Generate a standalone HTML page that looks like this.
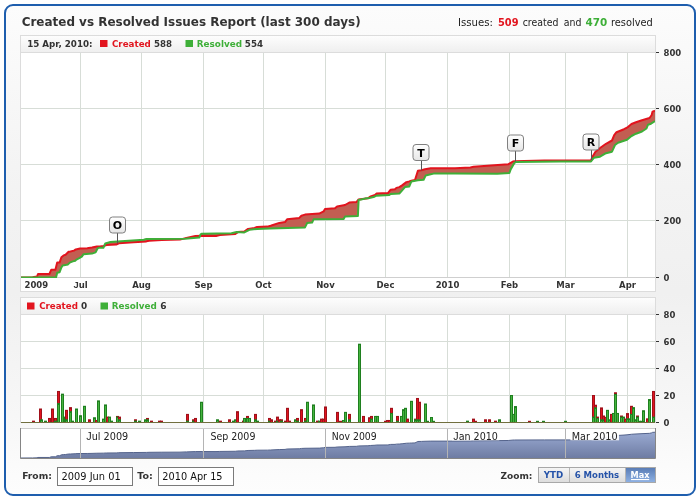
<!DOCTYPE html>
<html><head><meta charset="utf-8"><title>Created vs Resolved Issues Report</title>
<style>
html,body{margin:0;padding:0;background:#fff;}
body{width:700px;height:500px;overflow:hidden;position:relative;font-family:"DejaVu Sans","Liberation Sans",sans-serif;}
#frame{position:absolute;left:4px;top:4px;width:688px;height:488px;border:2px solid #1e5eae;border-radius:9px;
background:linear-gradient(to bottom,#fcfcfc 0px,#f9f9f9 60px,#f3f3f3 180px,#f0f0f0 285px,#f4f4f4 360px,#f8f8f8 425px,#fcfcfc 470px,#fdfdfd 488px);}
#title{position:absolute;left:22px;top:12px;font:bold 11.9px "DejaVu Sans","Liberation Sans",sans-serif;color:#333;white-space:nowrap;letter-spacing:0;}
#stats{position:absolute;left:458.5px;top:14px;font:10.7px "DejaVu Sans Condensed","Liberation Sans",sans-serif;color:#222;white-space:nowrap;}
#stats b.r{color:#e2141e}
#stats b.g{color:#3eaf38}
svg{position:absolute;left:0;top:0;}
</style></head><body>
<div id="frame"></div>
<svg width="700" height="500" viewBox="0 0 700 500">
<defs><linearGradient id="lg" x1="0" y1="0" x2="0" y2="1"><stop offset="0" stop-color="#fdfdfd"/><stop offset="1" stop-color="#efefef"/></linearGradient><linearGradient id="fg" x1="0" y1="0" x2="0" y2="1"><stop offset="0" stop-color="#ffffff"/><stop offset="1" stop-color="#e6e6e6"/></linearGradient><linearGradient id="ng" x1="0" y1="0" x2="0" y2="1"><stop offset="0" stop-color="#9aaad2"/><stop offset="1" stop-color="#6e7ca3"/></linearGradient><clipPath id="cu"><rect x="21" y="53" width="634" height="225"/></clipPath><clipPath id="cl"><rect x="21" y="315" width="634" height="108"/></clipPath></defs>
<rect x="20.5" y="35.5" width="635" height="256" fill="#fff" stroke="#dcdcdc"/>
<rect x="21" y="36" width="634" height="16" fill="url(#lg)"/>
<line x1="21" y1="52.5" x2="655" y2="52.5" stroke="#dcdcdc"/>
<line x1="80.5" y1="53" x2="80.5" y2="277" stroke="#d7ddd7"/>
<line x1="141.5" y1="53" x2="141.5" y2="277" stroke="#d7ddd7"/>
<line x1="203.5" y1="53" x2="203.5" y2="277" stroke="#d7ddd7"/>
<line x1="263.5" y1="53" x2="263.5" y2="277" stroke="#d7ddd7"/>
<line x1="325.5" y1="53" x2="325.5" y2="277" stroke="#d7ddd7"/>
<line x1="385.5" y1="53" x2="385.5" y2="277" stroke="#d7ddd7"/>
<line x1="447.5" y1="53" x2="447.5" y2="277" stroke="#d7ddd7"/>
<line x1="509.5" y1="53" x2="509.5" y2="277" stroke="#d7ddd7"/>
<line x1="565.5" y1="53" x2="565.5" y2="277" stroke="#d7ddd7"/>
<line x1="627.5" y1="53" x2="627.5" y2="277" stroke="#d7ddd7"/>
<line x1="21" y1="108.5" x2="655" y2="108.5" stroke="#d7ddd7"/>
<line x1="21" y1="164.5" x2="655" y2="164.5" stroke="#d7ddd7"/>
<line x1="21" y1="220.5" x2="655" y2="220.5" stroke="#d7ddd7"/>
<line x1="21" y1="277.5" x2="655" y2="277.5" stroke="#cfcfcf"/>
<g clip-path="url(#cu)">
<polygon points="20.5,277.5 32.6,277.2 37,276.5 38,274 49.4,274 51.2,269.8 55.4,269.8 57.2,262.6 59.6,262.6 61.4,257.2 63.6,255.4 65.6,254.8 68.6,251.8 70.4,251.5 74,250.6 75.8,249.4 80,248.6 87.2,248.2 92,247.6 96.8,246.6 100,246.4 103.4,246 106.6,245 116.2,244.6 118.8,243.3 133.6,242.2 146.4,241.4 149,240.7 161.8,240 180,239.6 186.4,237.9 195.4,236 202.5,235.7 216,236 219.8,235 235.3,234 237.8,232.1 244.3,231.5 248.1,228.9 254.5,228 257.1,227 267.4,226.6 270.7,225.7 279.3,222.9 285,222.1 287.1,219.3 299.3,217.9 301.4,215.7 305,214.6 319.3,213.6 323.6,211.4 325,208.9 335,208.3 337.1,206.4 345,205 349.3,202.6 356.4,202.1 358.6,199.5 367.9,198.3 370.7,196.4 375,195 376.4,193.6 387.9,193.1 390.7,189.7 395,189.3 396.4,187.9 399.3,187.1 402.1,185.4 406.4,182.1 409.3,181.4 411.4,180.7 415,180 417.9,170.7 421.4,170.3 425,169.3 430.7,168.3 455,168.3 470.4,167.5 473.6,166.7 508.2,164.3 512.9,161.5 514.5,161.2 544.3,160.6 591,160.5 593.2,155.5 595.5,151.7 600,148 606,143.8 612,140.5 614.2,135.2 616.5,132.2 624,129.2 627,127.7 631.5,124 636,122.2 642,120.2 649.5,118 651.7,115 652.5,111.7 655,110.8 655,121 651,123.7 648,124.7 646.5,128.5 642,131.5 636,133.7 631.5,136 627,139.7 618,142.7 615,145 612,151.7 606,153.2 600,156.7 594,157.7 591,161.5 560,161.5 516,162.1 514.5,162.7 510.5,169.8 509.4,173 497.2,173.7 455,173.6 433.6,173.6 430.7,174.3 425.7,175.4 423.6,179.7 417.9,180.3 411.4,181.4 409.3,186.4 405,187.1 399.3,193.6 390.7,194 389.3,195 376.4,195.7 373.6,197.1 369.3,197.9 365,198.6 362.1,199.3 358.6,200 357.9,216 345,216.4 343.6,218.9 313.6,219.3 312.1,222.6 307.1,223.1 305,227.4 270,228.5 257.1,228.9 249.4,229.8 244.3,232.4 236.6,232.1 231.4,233.2 201.9,233.7 200.6,234.4 199.3,237.5 185,238.7 146.4,238.9 143.8,239.7 117.5,241.4 110.4,242 105.3,243.5 103.4,247.8 98.6,247.8 97.4,248.8 95.6,252.4 92,253.6 83.6,254.2 81.8,256.6 78.8,258.4 76.4,259.6 75.2,260.8 72.8,261.4 69.8,262.6 68,264.4 62.6,265.4 61.4,267.4 59.6,272.2 57.2,272.8 56,277.5 20.5,277.5" fill="#c25e52"/>
<polyline points="20.5,277.5 32.6,277.2 37,276.5 38,274 49.4,274 51.2,269.8 55.4,269.8 57.2,262.6 59.6,262.6 61.4,257.2 63.6,255.4 65.6,254.8 68.6,251.8 70.4,251.5 74,250.6 75.8,249.4 80,248.6 87.2,248.2 92,247.6 96.8,246.6 100,246.4 103.4,246 106.6,245 116.2,244.6 118.8,243.3 133.6,242.2 146.4,241.4 149,240.7 161.8,240 180,239.6 186.4,237.9 195.4,236 202.5,235.7 216,236 219.8,235 235.3,234 237.8,232.1 244.3,231.5 248.1,228.9 254.5,228 257.1,227 267.4,226.6 270.7,225.7 279.3,222.9 285,222.1 287.1,219.3 299.3,217.9 301.4,215.7 305,214.6 319.3,213.6 323.6,211.4 325,208.9 335,208.3 337.1,206.4 345,205 349.3,202.6 356.4,202.1 358.6,199.5 367.9,198.3 370.7,196.4 375,195 376.4,193.6 387.9,193.1 390.7,189.7 395,189.3 396.4,187.9 399.3,187.1 402.1,185.4 406.4,182.1 409.3,181.4 411.4,180.7 415,180 417.9,170.7 421.4,170.3 425,169.3 430.7,168.3 455,168.3 470.4,167.5 473.6,166.7 508.2,164.3 512.9,161.5 514.5,161.2 544.3,160.6 591,160.5 593.2,155.5 595.5,151.7 600,148 606,143.8 612,140.5 614.2,135.2 616.5,132.2 624,129.2 627,127.7 631.5,124 636,122.2 642,120.2 649.5,118 651.7,115 652.5,111.7 655,110.8" fill="none" stroke="#e2141e" stroke-width="2" stroke-linejoin="round"/>
<polyline points="20.5,277.5 56,277.5 57.2,272.8 59.6,272.2 61.4,267.4 62.6,265.4 68,264.4 69.8,262.6 72.8,261.4 75.2,260.8 76.4,259.6 78.8,258.4 81.8,256.6 83.6,254.2 92,253.6 95.6,252.4 97.4,248.8 98.6,247.8 103.4,247.8 105.3,243.5 110.4,242 117.5,241.4 143.8,239.7 146.4,238.9 185,238.7 199.3,237.5 200.6,234.4 201.9,233.7 231.4,233.2 236.6,232.1 244.3,232.4 249.4,229.8 257.1,228.9 270,228.5 305,227.4 307.1,223.1 312.1,222.6 313.6,219.3 343.6,218.9 345,216.4 357.9,216 358.6,200 362.1,199.3 365,198.6 369.3,197.9 373.6,197.1 376.4,195.7 389.3,195 390.7,194 399.3,193.6 405,187.1 409.3,186.4 411.4,181.4 417.9,180.3 423.6,179.7 425.7,175.4 430.7,174.3 433.6,173.6 455,173.6 497.2,173.7 509.4,173 510.5,169.8 514.5,162.7 516,162.1 560,161.5 591,161.5 594,157.7 600,156.7 606,153.2 612,151.7 615,145 618,142.7 627,139.7 631.5,136 636,133.7 642,131.5 646.5,128.5 648,124.7 651,123.7 655,121" fill="none" stroke="#3eaf38" stroke-width="2" stroke-linejoin="round"/>
</g>
<line x1="117.5" y1="233" x2="117.5" y2="243.5" stroke="#555" stroke-width="1"/>
<rect x="109.5" y="217" width="16" height="16" rx="3" fill="url(#fg)" stroke="#808080"/>
<text x="117.5" y="229.2" font-family="DejaVu Sans" font-weight="bold" font-size="11" fill="#000" text-anchor="middle">O</text>
<line x1="421.5" y1="160.5" x2="421.5" y2="170.5" stroke="#555" stroke-width="1"/>
<rect x="413" y="144.5" width="16" height="16" rx="3" fill="url(#fg)" stroke="#808080"/>
<text x="421" y="156.7" font-family="DejaVu Sans" font-weight="bold" font-size="11" fill="#000" text-anchor="middle">T</text>
<line x1="515.5" y1="151" x2="515.5" y2="161.5" stroke="#555" stroke-width="1"/>
<rect x="507.5" y="135" width="16" height="16" rx="3" fill="url(#fg)" stroke="#808080"/>
<text x="515.5" y="147.2" font-family="DejaVu Sans" font-weight="bold" font-size="11" fill="#000" text-anchor="middle">F</text>
<line x1="591.5" y1="150" x2="591.5" y2="160" stroke="#555" stroke-width="1"/>
<rect x="583" y="134" width="16" height="16" rx="3" fill="url(#fg)" stroke="#808080"/>
<text x="591" y="146.2" font-family="DejaVu Sans" font-weight="bold" font-size="11" fill="#000" text-anchor="middle">R</text>
<text x="24.5" y="288" font-family="DejaVu Sans" font-weight="bold" font-size="8.5" fill="#333">2009</text>
<text x="80.5" y="288" font-family="DejaVu Sans" font-weight="bold" font-size="8.5" fill="#333" text-anchor="middle"><tspan font-family="Liberation Sans" font-size="9.4">J</tspan>ul</text>
<text x="141.5" y="288" font-family="DejaVu Sans" font-weight="bold" font-size="8.5" fill="#333" text-anchor="middle">Aug</text>
<text x="203.5" y="288" font-family="DejaVu Sans" font-weight="bold" font-size="8.5" fill="#333" text-anchor="middle">Sep</text>
<text x="263.5" y="288" font-family="DejaVu Sans" font-weight="bold" font-size="8.5" fill="#333" text-anchor="middle">Oct</text>
<text x="325.5" y="288" font-family="DejaVu Sans" font-weight="bold" font-size="8.5" fill="#333" text-anchor="middle">Nov</text>
<text x="385.5" y="288" font-family="DejaVu Sans" font-weight="bold" font-size="8.5" fill="#333" text-anchor="middle">Dec</text>
<text x="447.5" y="288" font-family="DejaVu Sans" font-weight="bold" font-size="8.5" fill="#333" text-anchor="middle">2010</text>
<text x="509.5" y="288" font-family="DejaVu Sans" font-weight="bold" font-size="8.5" fill="#333" text-anchor="middle">Feb</text>
<text x="565.5" y="288" font-family="DejaVu Sans" font-weight="bold" font-size="8.5" fill="#333" text-anchor="middle">Mar</text>
<text x="627.5" y="288" font-family="DejaVu Sans" font-weight="bold" font-size="8.5" fill="#333" text-anchor="middle">Apr</text>
<line x1="656" y1="52.5" x2="659" y2="52.5" stroke="#333"/>
<text x="663.5" y="55.6" font-family="DejaVu Sans" font-weight="bold" font-size="8.5" fill="#333">800</text>
<line x1="656" y1="108.5" x2="659" y2="108.5" stroke="#333"/>
<text x="663.5" y="111.6" font-family="DejaVu Sans" font-weight="bold" font-size="8.5" fill="#333">600</text>
<line x1="656" y1="164.5" x2="659" y2="164.5" stroke="#333"/>
<text x="663.5" y="167.6" font-family="DejaVu Sans" font-weight="bold" font-size="8.5" fill="#333">400</text>
<line x1="656" y1="220.5" x2="659" y2="220.5" stroke="#333"/>
<text x="663.5" y="223.6" font-family="DejaVu Sans" font-weight="bold" font-size="8.5" fill="#333">200</text>
<line x1="656" y1="277.5" x2="659" y2="277.5" stroke="#333"/>
<text x="663.5" y="280.6" font-family="DejaVu Sans" font-weight="bold" font-size="8.5" fill="#333">0</text>
<rect x="100" y="40" width="7.5" height="7" fill="#e2141e"/>
<rect x="185.5" y="40" width="7.5" height="7" fill="#3eaf38"/>
<text x="27.16" y="47" textLength="65.38" lengthAdjust="spacingAndGlyphs" font-size="9" font-family="DejaVu Sans" font-weight="bold" fill="#333">15 Apr, 2010:</text>
<text x="111.96" y="47" textLength="38.88" lengthAdjust="spacingAndGlyphs" font-size="9" font-family="DejaVu Sans" font-weight="bold" fill="#e2141e">Created</text>
<text x="154.06" y="47" textLength="18.08" lengthAdjust="spacingAndGlyphs" font-size="9" font-family="DejaVu Sans" font-weight="bold" fill="#333">588</text>
<text x="196.76" y="47" textLength="45.28" lengthAdjust="spacingAndGlyphs" font-size="9" font-family="DejaVu Sans" font-weight="bold" fill="#3eaf38">Resolved</text>
<text x="244.86" y="47" textLength="18.28" lengthAdjust="spacingAndGlyphs" font-size="9" font-family="DejaVu Sans" font-weight="bold" fill="#333">554</text>
<text x="21.68" y="25.8" textLength="338.94" lengthAdjust="spacingAndGlyphs" font-size="12" font-family="DejaVu Sans" font-weight="bold" fill="#333">Created vs Resolved Issues Report (last 300 days)</text>
<text x="457.99" y="25.9" textLength="35.02" lengthAdjust="spacingAndGlyphs" font-size="10.2" font-family="DejaVu Sans" fill="#222">Issues:</text>
<text x="497.99" y="25.9" textLength="20.52" lengthAdjust="spacingAndGlyphs" font-size="10.2" font-family="DejaVu Sans" font-weight="bold" fill="#e2141e">509</text>
<text x="522.69" y="25.9" textLength="35.72" lengthAdjust="spacingAndGlyphs" font-size="10.2" font-family="DejaVu Sans" fill="#222">created</text>
<text x="563.79" y="25.9" textLength="17.72" lengthAdjust="spacingAndGlyphs" font-size="10.2" font-family="DejaVu Sans" fill="#222">and</text>
<text x="585.49" y="25.9" textLength="21.72" lengthAdjust="spacingAndGlyphs" font-size="10.2" font-family="DejaVu Sans" font-weight="bold" fill="#3eaf38">470</text>
<text x="610.99" y="25.9" textLength="41.82" lengthAdjust="spacingAndGlyphs" font-size="10.2" font-family="DejaVu Sans" fill="#222">resolved</text>
<rect x="20.5" y="297.5" width="635" height="125" fill="#fff" stroke="#dcdcdc"/>
<rect x="21" y="298" width="634" height="16" fill="url(#lg)"/>
<line x1="21" y1="314.5" x2="655" y2="314.5" stroke="#dcdcdc"/>
<line x1="80.5" y1="315" x2="80.5" y2="422" stroke="#d7ddd7"/>
<line x1="141.5" y1="315" x2="141.5" y2="422" stroke="#d7ddd7"/>
<line x1="203.5" y1="315" x2="203.5" y2="422" stroke="#d7ddd7"/>
<line x1="263.5" y1="315" x2="263.5" y2="422" stroke="#d7ddd7"/>
<line x1="325.5" y1="315" x2="325.5" y2="422" stroke="#d7ddd7"/>
<line x1="385.5" y1="315" x2="385.5" y2="422" stroke="#d7ddd7"/>
<line x1="447.5" y1="315" x2="447.5" y2="422" stroke="#d7ddd7"/>
<line x1="509.5" y1="315" x2="509.5" y2="422" stroke="#d7ddd7"/>
<line x1="565.5" y1="315" x2="565.5" y2="422" stroke="#d7ddd7"/>
<line x1="627.5" y1="315" x2="627.5" y2="422" stroke="#d7ddd7"/>
<line x1="21" y1="341.5" x2="655" y2="341.5" stroke="#d7ddd7"/>
<line x1="21" y1="368.5" x2="655" y2="368.5" stroke="#d7ddd7"/>
<line x1="21" y1="395.5" x2="655" y2="395.5" stroke="#d7ddd7"/>
<g clip-path="url(#cl)">
<rect x="32.5" y="421.15" width="2" height="1.35" fill="#e0141e" stroke="#a0101a" stroke-width="1"/>
<rect x="39.5" y="409" width="2" height="13.5" fill="#e0141e" stroke="#a0101a" stroke-width="1"/>
<rect x="40.5" y="419.8" width="2" height="2.7" fill="#45b43f" stroke="#1f7f1f" stroke-width="1"/>
<rect x="44.5" y="421.15" width="2" height="1.35" fill="#45b43f" stroke="#1f7f1f" stroke-width="1"/>
<rect x="48.5" y="418.45" width="2" height="4.05" fill="#e0141e" stroke="#a0101a" stroke-width="1"/>
<rect x="51.5" y="409" width="2" height="13.5" fill="#e0141e" stroke="#a0101a" stroke-width="1"/>
<rect x="54.5" y="418.45" width="2" height="4.05" fill="#e0141e" stroke="#a0101a" stroke-width="1"/>
<rect x="54.5" y="421.15" width="2" height="1.35" fill="#45b43f" stroke="#1f7f1f" stroke-width="1"/>
<rect x="57.5" y="391.45" width="2" height="31.05" fill="#e0141e" stroke="#a0101a" stroke-width="1"/>
<rect x="57.5" y="403.6" width="2" height="18.9" fill="#45b43f" stroke="#1f7f1f" stroke-width="1"/>
<rect x="61.5" y="394.15" width="2" height="28.35" fill="#45b43f" stroke="#1f7f1f" stroke-width="1"/>
<rect x="64.5" y="417.1" width="2" height="5.4" fill="#45b43f" stroke="#1f7f1f" stroke-width="1"/>
<rect x="65.5" y="410.35" width="2" height="12.15" fill="#e0141e" stroke="#a0101a" stroke-width="1"/>
<rect x="65.5" y="419.8" width="2" height="2.7" fill="#45b43f" stroke="#1f7f1f" stroke-width="1"/>
<rect x="69.5" y="407.65" width="2" height="14.85" fill="#e0141e" stroke="#a0101a" stroke-width="1"/>
<rect x="69.5" y="411.7" width="2" height="10.8" fill="#45b43f" stroke="#1f7f1f" stroke-width="1"/>
<rect x="71.5" y="421.15" width="2" height="1.35" fill="#45b43f" stroke="#1f7f1f" stroke-width="1"/>
<rect x="75.5" y="409" width="2" height="13.5" fill="#45b43f" stroke="#1f7f1f" stroke-width="1"/>
<rect x="79.5" y="415.75" width="2" height="6.75" fill="#45b43f" stroke="#1f7f1f" stroke-width="1"/>
<rect x="83.5" y="406.3" width="2" height="16.2" fill="#45b43f" stroke="#1f7f1f" stroke-width="1"/>
<rect x="88.5" y="419.8" width="2" height="2.7" fill="#e0141e" stroke="#a0101a" stroke-width="1"/>
<rect x="93.5" y="417.77" width="2" height="4.73" fill="#45b43f" stroke="#1f7f1f" stroke-width="1"/>
<rect x="95.5" y="420.48" width="2" height="2.03" fill="#e0141e" stroke="#a0101a" stroke-width="1"/>
<rect x="97.5" y="400.9" width="2" height="21.6" fill="#45b43f" stroke="#1f7f1f" stroke-width="1"/>
<rect x="102.5" y="419.12" width="2" height="3.38" fill="#45b43f" stroke="#1f7f1f" stroke-width="1"/>
<rect x="104.5" y="404.95" width="2" height="17.55" fill="#45b43f" stroke="#1f7f1f" stroke-width="1"/>
<rect x="106.5" y="417.1" width="2" height="5.4" fill="#e0141e" stroke="#a0101a" stroke-width="1"/>
<rect x="108.5" y="417.1" width="2" height="5.4" fill="#45b43f" stroke="#1f7f1f" stroke-width="1"/>
<rect x="110.5" y="421.15" width="2" height="1.35" fill="#45b43f" stroke="#1f7f1f" stroke-width="1"/>
<rect x="116.5" y="416.43" width="2" height="6.08" fill="#e0141e" stroke="#a0101a" stroke-width="1"/>
<rect x="116.5" y="417.1" width="2" height="5.4" fill="#45b43f" stroke="#1f7f1f" stroke-width="1"/>
<rect x="118.5" y="417.1" width="2" height="5.4" fill="#e0141e" stroke="#a0101a" stroke-width="1"/>
<rect x="118.5" y="419.8" width="2" height="2.7" fill="#45b43f" stroke="#1f7f1f" stroke-width="1"/>
<rect x="134.5" y="419.8" width="2" height="2.7" fill="#e0141e" stroke="#a0101a" stroke-width="1"/>
<rect x="134.5" y="421.15" width="2" height="1.35" fill="#45b43f" stroke="#1f7f1f" stroke-width="1"/>
<rect x="138.5" y="421.15" width="2" height="1.35" fill="#45b43f" stroke="#1f7f1f" stroke-width="1"/>
<rect x="144.5" y="419.8" width="2" height="2.7" fill="#45b43f" stroke="#1f7f1f" stroke-width="1"/>
<rect x="146.5" y="418.45" width="2" height="4.05" fill="#e0141e" stroke="#a0101a" stroke-width="1"/>
<rect x="146.5" y="419.8" width="2" height="2.7" fill="#45b43f" stroke="#1f7f1f" stroke-width="1"/>
<rect x="150.5" y="421.15" width="2" height="1.35" fill="#e0141e" stroke="#a0101a" stroke-width="1"/>
<rect x="158.5" y="421.15" width="2" height="1.35" fill="#e0141e" stroke="#a0101a" stroke-width="1"/>
<rect x="160.5" y="421.15" width="2" height="1.35" fill="#e0141e" stroke="#a0101a" stroke-width="1"/>
<rect x="186.5" y="414.4" width="2" height="8.1" fill="#e0141e" stroke="#a0101a" stroke-width="1"/>
<rect x="186.5" y="421.15" width="2" height="1.35" fill="#45b43f" stroke="#1f7f1f" stroke-width="1"/>
<rect x="192.5" y="419.8" width="2" height="2.7" fill="#e0141e" stroke="#a0101a" stroke-width="1"/>
<rect x="192.5" y="421.15" width="2" height="1.35" fill="#45b43f" stroke="#1f7f1f" stroke-width="1"/>
<rect x="194.5" y="418.45" width="2" height="4.05" fill="#e0141e" stroke="#a0101a" stroke-width="1"/>
<rect x="200.5" y="402.25" width="2" height="20.25" fill="#45b43f" stroke="#1f7f1f" stroke-width="1"/>
<rect x="216.5" y="419.8" width="2" height="2.7" fill="#45b43f" stroke="#1f7f1f" stroke-width="1"/>
<rect x="219.5" y="421.15" width="2" height="1.35" fill="#e0141e" stroke="#a0101a" stroke-width="1"/>
<rect x="228.5" y="419.8" width="2" height="2.7" fill="#e0141e" stroke="#a0101a" stroke-width="1"/>
<rect x="232.5" y="421.15" width="2" height="1.35" fill="#45b43f" stroke="#1f7f1f" stroke-width="1"/>
<rect x="234.5" y="419.8" width="2" height="2.7" fill="#45b43f" stroke="#1f7f1f" stroke-width="1"/>
<rect x="236.5" y="411.7" width="2" height="10.8" fill="#e0141e" stroke="#a0101a" stroke-width="1"/>
<rect x="242.5" y="421.15" width="2" height="1.35" fill="#e0141e" stroke="#a0101a" stroke-width="1"/>
<rect x="243.5" y="418.45" width="2" height="4.05" fill="#45b43f" stroke="#1f7f1f" stroke-width="1"/>
<rect x="246.5" y="416.43" width="2" height="6.08" fill="#e0141e" stroke="#a0101a" stroke-width="1"/>
<rect x="246.5" y="418.45" width="2" height="4.05" fill="#45b43f" stroke="#1f7f1f" stroke-width="1"/>
<rect x="248.5" y="418.45" width="2" height="4.05" fill="#45b43f" stroke="#1f7f1f" stroke-width="1"/>
<rect x="254.5" y="414.4" width="2" height="8.1" fill="#e0141e" stroke="#a0101a" stroke-width="1"/>
<rect x="254.5" y="419.8" width="2" height="2.7" fill="#45b43f" stroke="#1f7f1f" stroke-width="1"/>
<rect x="256.5" y="421.15" width="2" height="1.35" fill="#45b43f" stroke="#1f7f1f" stroke-width="1"/>
<rect x="268.5" y="418.45" width="2" height="4.05" fill="#e0141e" stroke="#a0101a" stroke-width="1"/>
<rect x="268.5" y="421.15" width="2" height="1.35" fill="#45b43f" stroke="#1f7f1f" stroke-width="1"/>
<rect x="270.5" y="419.8" width="2" height="2.7" fill="#e0141e" stroke="#a0101a" stroke-width="1"/>
<rect x="274.5" y="421.15" width="2" height="1.35" fill="#e0141e" stroke="#a0101a" stroke-width="1"/>
<rect x="276.5" y="417.1" width="2" height="5.4" fill="#e0141e" stroke="#a0101a" stroke-width="1"/>
<rect x="276.5" y="421.15" width="2" height="1.35" fill="#45b43f" stroke="#1f7f1f" stroke-width="1"/>
<rect x="278.5" y="419.8" width="2" height="2.7" fill="#e0141e" stroke="#a0101a" stroke-width="1"/>
<rect x="280.5" y="419.8" width="2" height="2.7" fill="#e0141e" stroke="#a0101a" stroke-width="1"/>
<rect x="280.5" y="421.15" width="2" height="1.35" fill="#45b43f" stroke="#1f7f1f" stroke-width="1"/>
<rect x="284.5" y="421.15" width="2" height="1.35" fill="#e0141e" stroke="#a0101a" stroke-width="1"/>
<rect x="286.5" y="408.32" width="2" height="14.18" fill="#e0141e" stroke="#a0101a" stroke-width="1"/>
<rect x="288.5" y="421.15" width="2" height="1.35" fill="#e0141e" stroke="#a0101a" stroke-width="1"/>
<rect x="294.5" y="419.8" width="2" height="2.7" fill="#45b43f" stroke="#1f7f1f" stroke-width="1"/>
<rect x="296.5" y="418.45" width="2" height="4.05" fill="#e0141e" stroke="#a0101a" stroke-width="1"/>
<rect x="296.5" y="421.15" width="2" height="1.35" fill="#45b43f" stroke="#1f7f1f" stroke-width="1"/>
<rect x="300.5" y="409.68" width="2" height="12.83" fill="#e0141e" stroke="#a0101a" stroke-width="1"/>
<rect x="304.5" y="418.45" width="2" height="4.05" fill="#e0141e" stroke="#a0101a" stroke-width="1"/>
<rect x="304.5" y="421.15" width="2" height="1.35" fill="#45b43f" stroke="#1f7f1f" stroke-width="1"/>
<rect x="306.5" y="402.25" width="2" height="20.25" fill="#45b43f" stroke="#1f7f1f" stroke-width="1"/>
<rect x="312.5" y="404.95" width="2" height="17.55" fill="#45b43f" stroke="#1f7f1f" stroke-width="1"/>
<rect x="316.5" y="421.15" width="2" height="1.35" fill="#e0141e" stroke="#a0101a" stroke-width="1"/>
<rect x="318.5" y="421.15" width="2" height="1.35" fill="#45b43f" stroke="#1f7f1f" stroke-width="1"/>
<rect x="320.5" y="419.12" width="2" height="3.38" fill="#e0141e" stroke="#a0101a" stroke-width="1"/>
<rect x="322.5" y="419.12" width="2" height="3.38" fill="#e0141e" stroke="#a0101a" stroke-width="1"/>
<rect x="324.5" y="406.98" width="2" height="15.53" fill="#e0141e" stroke="#a0101a" stroke-width="1"/>
<rect x="336.5" y="412.38" width="2" height="10.12" fill="#e0141e" stroke="#a0101a" stroke-width="1"/>
<rect x="339.5" y="421.3" width="2" height="1.2" fill="#e0141e" stroke="#a0101a" stroke-width="1"/>
<rect x="342.5" y="420.48" width="2" height="2.03" fill="#45b43f" stroke="#1f7f1f" stroke-width="1"/>
<rect x="344.5" y="412.38" width="2" height="10.12" fill="#45b43f" stroke="#1f7f1f" stroke-width="1"/>
<rect x="348.5" y="414.4" width="2" height="8.1" fill="#e0141e" stroke="#a0101a" stroke-width="1"/>
<rect x="348.5" y="419.8" width="2" height="2.7" fill="#45b43f" stroke="#1f7f1f" stroke-width="1"/>
<rect x="358.5" y="344.2" width="2" height="78.3" fill="#45b43f" stroke="#1f7f1f" stroke-width="1"/>
<rect x="362.5" y="416.43" width="2" height="6.08" fill="#e0141e" stroke="#a0101a" stroke-width="1"/>
<rect x="368.5" y="417.77" width="2" height="4.73" fill="#e0141e" stroke="#a0101a" stroke-width="1"/>
<rect x="370.5" y="416.43" width="2" height="6.08" fill="#e0141e" stroke="#a0101a" stroke-width="1"/>
<rect x="370.5" y="419.12" width="2" height="3.38" fill="#45b43f" stroke="#1f7f1f" stroke-width="1"/>
<rect x="374.5" y="416.43" width="2" height="6.08" fill="#45b43f" stroke="#1f7f1f" stroke-width="1"/>
<rect x="376.5" y="416.43" width="2" height="6.08" fill="#45b43f" stroke="#1f7f1f" stroke-width="1"/>
<rect x="384.5" y="421.3" width="2" height="1.2" fill="#e0141e" stroke="#a0101a" stroke-width="1"/>
<rect x="386.5" y="420.48" width="2" height="2.03" fill="#e0141e" stroke="#a0101a" stroke-width="1"/>
<rect x="388.5" y="420.48" width="2" height="2.03" fill="#e0141e" stroke="#a0101a" stroke-width="1"/>
<rect x="390.5" y="408.32" width="2" height="14.18" fill="#e0141e" stroke="#a0101a" stroke-width="1"/>
<rect x="390.5" y="413.45" width="2" height="9.05" fill="#45b43f" stroke="#1f7f1f" stroke-width="1"/>
<rect x="396.5" y="416.43" width="2" height="6.08" fill="#e0141e" stroke="#a0101a" stroke-width="1"/>
<rect x="396.5" y="421.3" width="2" height="1.2" fill="#45b43f" stroke="#1f7f1f" stroke-width="1"/>
<rect x="400.5" y="416.43" width="2" height="6.08" fill="#45b43f" stroke="#1f7f1f" stroke-width="1"/>
<rect x="402.5" y="409.68" width="2" height="12.83" fill="#45b43f" stroke="#1f7f1f" stroke-width="1"/>
<rect x="404.5" y="408.32" width="2" height="14.18" fill="#45b43f" stroke="#1f7f1f" stroke-width="1"/>
<rect x="406.5" y="419.12" width="2" height="3.38" fill="#e0141e" stroke="#a0101a" stroke-width="1"/>
<rect x="410.5" y="401.31" width="2" height="21.2" fill="#45b43f" stroke="#1f7f1f" stroke-width="1"/>
<rect x="414.5" y="419.12" width="2" height="3.38" fill="#e0141e" stroke="#a0101a" stroke-width="1"/>
<rect x="414.5" y="419.8" width="2" height="2.7" fill="#45b43f" stroke="#1f7f1f" stroke-width="1"/>
<rect x="416.5" y="398.47" width="2" height="24.03" fill="#e0141e" stroke="#a0101a" stroke-width="1"/>
<rect x="416.5" y="419.8" width="2" height="2.7" fill="#45b43f" stroke="#1f7f1f" stroke-width="1"/>
<rect x="418.5" y="402.25" width="2" height="20.25" fill="#e0141e" stroke="#a0101a" stroke-width="1"/>
<rect x="418.5" y="419.8" width="2" height="2.7" fill="#45b43f" stroke="#1f7f1f" stroke-width="1"/>
<rect x="424.5" y="404" width="2" height="18.5" fill="#45b43f" stroke="#1f7f1f" stroke-width="1"/>
<rect x="426.5" y="421.3" width="2" height="1.2" fill="#45b43f" stroke="#1f7f1f" stroke-width="1"/>
<rect x="430.5" y="417.5" width="2" height="5" fill="#45b43f" stroke="#1f7f1f" stroke-width="1"/>
<rect x="432.5" y="421.3" width="2" height="1.2" fill="#45b43f" stroke="#1f7f1f" stroke-width="1"/>
<rect x="466.5" y="421.15" width="2" height="1.35" fill="#45b43f" stroke="#1f7f1f" stroke-width="1"/>
<rect x="472.5" y="419.12" width="2" height="3.38" fill="#e0141e" stroke="#a0101a" stroke-width="1"/>
<rect x="474.5" y="421.3" width="2" height="1.2" fill="#e0141e" stroke="#a0101a" stroke-width="1"/>
<rect x="484.5" y="419.8" width="2" height="2.7" fill="#e0141e" stroke="#a0101a" stroke-width="1"/>
<rect x="488.5" y="419.8" width="2" height="2.7" fill="#e0141e" stroke="#a0101a" stroke-width="1"/>
<rect x="494.5" y="421.15" width="2" height="1.35" fill="#e0141e" stroke="#a0101a" stroke-width="1"/>
<rect x="498.5" y="419.8" width="2" height="2.7" fill="#45b43f" stroke="#1f7f1f" stroke-width="1"/>
<rect x="510.5" y="395.5" width="2" height="27" fill="#45b43f" stroke="#1f7f1f" stroke-width="1"/>
<rect x="512.5" y="414.4" width="2" height="8.1" fill="#45b43f" stroke="#1f7f1f" stroke-width="1"/>
<rect x="514.5" y="406.57" width="2" height="15.93" fill="#45b43f" stroke="#1f7f1f" stroke-width="1"/>
<rect x="528.5" y="421.3" width="2" height="1.2" fill="#e0141e" stroke="#a0101a" stroke-width="1"/>
<rect x="536.5" y="421.3" width="2" height="1.2" fill="#45b43f" stroke="#1f7f1f" stroke-width="1"/>
<rect x="542.5" y="421.3" width="2" height="1.2" fill="#45b43f" stroke="#1f7f1f" stroke-width="1"/>
<rect x="564.5" y="421.3" width="2" height="1.2" fill="#45b43f" stroke="#1f7f1f" stroke-width="1"/>
<rect x="592.5" y="395.5" width="2" height="27" fill="#e0141e" stroke="#a0101a" stroke-width="1"/>
<rect x="592.5" y="417.1" width="2" height="5.4" fill="#45b43f" stroke="#1f7f1f" stroke-width="1"/>
<rect x="594.5" y="405.22" width="2" height="17.28" fill="#e0141e" stroke="#a0101a" stroke-width="1"/>
<rect x="594.5" y="407.79" width="2" height="14.72" fill="#45b43f" stroke="#1f7f1f" stroke-width="1"/>
<rect x="596.5" y="417.1" width="2" height="5.4" fill="#e0141e" stroke="#a0101a" stroke-width="1"/>
<rect x="596.5" y="418.45" width="2" height="4.05" fill="#45b43f" stroke="#1f7f1f" stroke-width="1"/>
<rect x="600.5" y="407.92" width="2" height="14.58" fill="#e0141e" stroke="#a0101a" stroke-width="1"/>
<rect x="600.5" y="419.8" width="2" height="2.7" fill="#45b43f" stroke="#1f7f1f" stroke-width="1"/>
<rect x="602.5" y="416.02" width="2" height="6.48" fill="#e0141e" stroke="#a0101a" stroke-width="1"/>
<rect x="602.5" y="419.8" width="2" height="2.7" fill="#45b43f" stroke="#1f7f1f" stroke-width="1"/>
<rect x="604.5" y="417.37" width="2" height="5.13" fill="#e0141e" stroke="#a0101a" stroke-width="1"/>
<rect x="606.5" y="410.35" width="2" height="12.15" fill="#45b43f" stroke="#1f7f1f" stroke-width="1"/>
<rect x="608.5" y="419.8" width="2" height="2.7" fill="#45b43f" stroke="#1f7f1f" stroke-width="1"/>
<rect x="610.5" y="414.4" width="2" height="8.1" fill="#e0141e" stroke="#a0101a" stroke-width="1"/>
<rect x="612.5" y="413.45" width="2" height="9.05" fill="#45b43f" stroke="#1f7f1f" stroke-width="1"/>
<rect x="614.5" y="392.8" width="2" height="29.7" fill="#e0141e" stroke="#a0101a" stroke-width="1"/>
<rect x="614.5" y="394.42" width="2" height="28.08" fill="#45b43f" stroke="#1f7f1f" stroke-width="1"/>
<rect x="616.5" y="413.45" width="2" height="9.05" fill="#45b43f" stroke="#1f7f1f" stroke-width="1"/>
<rect x="620.5" y="416.02" width="2" height="6.48" fill="#e0141e" stroke="#a0101a" stroke-width="1"/>
<rect x="620.5" y="417.1" width="2" height="5.4" fill="#45b43f" stroke="#1f7f1f" stroke-width="1"/>
<rect x="622.5" y="417.1" width="2" height="5.4" fill="#45b43f" stroke="#1f7f1f" stroke-width="1"/>
<rect x="624.5" y="419.12" width="2" height="3.38" fill="#e0141e" stroke="#a0101a" stroke-width="1"/>
<rect x="626.5" y="413.59" width="2" height="8.91" fill="#e0141e" stroke="#a0101a" stroke-width="1"/>
<rect x="626.5" y="418.86" width="2" height="3.65" fill="#45b43f" stroke="#1f7f1f" stroke-width="1"/>
<rect x="628.5" y="418.86" width="2" height="3.65" fill="#45b43f" stroke="#1f7f1f" stroke-width="1"/>
<rect x="630.5" y="406.3" width="2" height="16.2" fill="#e0141e" stroke="#a0101a" stroke-width="1"/>
<rect x="630.5" y="414.4" width="2" height="8.1" fill="#45b43f" stroke="#1f7f1f" stroke-width="1"/>
<rect x="632.5" y="407.65" width="2" height="14.85" fill="#45b43f" stroke="#1f7f1f" stroke-width="1"/>
<rect x="634.5" y="419.8" width="2" height="2.7" fill="#45b43f" stroke="#1f7f1f" stroke-width="1"/>
<rect x="636.5" y="416.02" width="2" height="6.48" fill="#e0141e" stroke="#a0101a" stroke-width="1"/>
<rect x="636.5" y="417.1" width="2" height="5.4" fill="#45b43f" stroke="#1f7f1f" stroke-width="1"/>
<rect x="638.5" y="421.3" width="2" height="1.2" fill="#45b43f" stroke="#1f7f1f" stroke-width="1"/>
<rect x="640.5" y="421.3" width="2" height="1.2" fill="#45b43f" stroke="#1f7f1f" stroke-width="1"/>
<rect x="642.5" y="410.75" width="2" height="11.74" fill="#45b43f" stroke="#1f7f1f" stroke-width="1"/>
<rect x="646.5" y="418.86" width="2" height="3.65" fill="#e0141e" stroke="#a0101a" stroke-width="1"/>
<rect x="648.5" y="399.55" width="2" height="22.95" fill="#45b43f" stroke="#1f7f1f" stroke-width="1"/>
<rect x="652.5" y="391.45" width="2" height="31.05" fill="#e0141e" stroke="#a0101a" stroke-width="1"/>
<rect x="652.5" y="417.1" width="2" height="5.4" fill="#45b43f" stroke="#1f7f1f" stroke-width="1"/>
</g>
<line x1="21" y1="422.5" x2="655" y2="422.5" stroke="#716f3e"/>
<line x1="656" y1="314.5" x2="659" y2="314.5" stroke="#333"/>
<text x="663.5" y="317.6" font-family="DejaVu Sans" font-weight="bold" font-size="8.5" fill="#333">80</text>
<line x1="656" y1="341.5" x2="659" y2="341.5" stroke="#333"/>
<text x="663.5" y="344.6" font-family="DejaVu Sans" font-weight="bold" font-size="8.5" fill="#333">60</text>
<line x1="656" y1="368.5" x2="659" y2="368.5" stroke="#333"/>
<text x="663.5" y="371.6" font-family="DejaVu Sans" font-weight="bold" font-size="8.5" fill="#333">40</text>
<line x1="656" y1="395.5" x2="659" y2="395.5" stroke="#333"/>
<text x="663.5" y="398.6" font-family="DejaVu Sans" font-weight="bold" font-size="8.5" fill="#333">20</text>
<line x1="656" y1="422.5" x2="659" y2="422.5" stroke="#333"/>
<text x="663.5" y="425.6" font-family="DejaVu Sans" font-weight="bold" font-size="8.5" fill="#333">0</text>
<rect x="27" y="302.5" width="7.5" height="7" fill="#e2141e"/>
<rect x="100.5" y="302.5" width="7.5" height="7" fill="#3eaf38"/>
<text x="39.16" y="308.8" textLength="38.78" lengthAdjust="spacingAndGlyphs" font-size="9" font-family="DejaVu Sans" font-weight="bold" fill="#e2141e">Created</text>
<text x="80.96" y="308.8" textLength="6.18" lengthAdjust="spacingAndGlyphs" font-size="9" font-family="DejaVu Sans" font-weight="bold" fill="#333">0</text>
<text x="111.66" y="308.8" textLength="45.18" lengthAdjust="spacingAndGlyphs" font-size="9" font-family="DejaVu Sans" font-weight="bold" fill="#3eaf38">Resolved</text>
<text x="160.36" y="308.8" textLength="6.28" lengthAdjust="spacingAndGlyphs" font-size="9" font-family="DejaVu Sans" font-weight="bold" fill="#333">6</text>
<rect x="20.5" y="428.5" width="635" height="30" fill="#fff" stroke="none"/>
<polygon points="20.5,458 20.5,458 32.6,457.95 37,457.85 38,457.46 49.4,457.46 51.2,456.81 55.4,456.81 57.2,455.7 59.6,455.7 61.4,454.86 63.6,454.58 65.6,454.49 68.6,454.03 70.4,453.98 74,453.84 75.8,453.65 80,453.53 87.2,453.47 92,453.38 96.8,453.22 100,453.19 103.4,453.13 106.6,452.97 116.2,452.91 118.8,452.71 133.6,452.54 146.4,452.42 149,452.31 161.8,452.2 180,452.14 186.4,451.88 195.4,451.58 202.5,451.53 216,451.58 219.8,451.43 235.3,451.27 237.8,450.98 244.3,450.89 248.1,450.48 254.5,450.34 257.1,450.19 267.4,450.13 270.7,449.99 279.3,449.56 285,449.43 287.1,449 299.3,448.78 301.4,448.44 305,448.27 319.3,448.12 323.6,447.78 325,447.39 335,447.3 337.1,447 345,446.79 349.3,446.42 356.4,446.34 358.6,445.94 367.9,445.75 370.7,445.46 375,445.24 376.4,445.02 387.9,444.95 390.7,444.42 395,444.36 396.4,444.14 399.3,444.02 402.1,443.76 406.4,443.24 409.3,443.14 411.4,443.03 415,442.92 417.9,441.48 421.4,441.42 425,441.27 430.7,441.11 455,441.11 470.4,440.99 473.6,440.86 508.2,440.49 512.9,440.06 514.5,440.01 544.3,439.92 591,439.9 593.2,439.13 595.5,438.54 600,437.97 606,437.32 612,436.81 614.2,435.99 616.5,435.53 624,435.06 627,434.83 631.5,434.26 636,433.98 642,433.67 649.5,433.33 651.7,432.87 652.5,432.36 655,432.22 655,458" fill="url(#ng)"/>
<polyline points="20.5,458 32.6,457.95 37,457.85 38,457.46 49.4,457.46 51.2,456.81 55.4,456.81 57.2,455.7 59.6,455.7 61.4,454.86 63.6,454.58 65.6,454.49 68.6,454.03 70.4,453.98 74,453.84 75.8,453.65 80,453.53 87.2,453.47 92,453.38 96.8,453.22 100,453.19 103.4,453.13 106.6,452.97 116.2,452.91 118.8,452.71 133.6,452.54 146.4,452.42 149,452.31 161.8,452.2 180,452.14 186.4,451.88 195.4,451.58 202.5,451.53 216,451.58 219.8,451.43 235.3,451.27 237.8,450.98 244.3,450.89 248.1,450.48 254.5,450.34 257.1,450.19 267.4,450.13 270.7,449.99 279.3,449.56 285,449.43 287.1,449 299.3,448.78 301.4,448.44 305,448.27 319.3,448.12 323.6,447.78 325,447.39 335,447.3 337.1,447 345,446.79 349.3,446.42 356.4,446.34 358.6,445.94 367.9,445.75 370.7,445.46 375,445.24 376.4,445.02 387.9,444.95 390.7,444.42 395,444.36 396.4,444.14 399.3,444.02 402.1,443.76 406.4,443.24 409.3,443.14 411.4,443.03 415,442.92 417.9,441.48 421.4,441.42 425,441.27 430.7,441.11 455,441.11 470.4,440.99 473.6,440.86 508.2,440.49 512.9,440.06 514.5,440.01 544.3,439.92 591,439.9 593.2,439.13 595.5,438.54 600,437.97 606,437.32 612,436.81 614.2,435.99 616.5,435.53 624,435.06 627,434.83 631.5,434.26 636,433.98 642,433.67 649.5,433.33 651.7,432.87 652.5,432.36 655,432.22" fill="none" stroke="#55648c" stroke-width="1"/>
<line x1="80.5" y1="429" x2="80.5" y2="458" stroke="#b4b4b4"/>
<line x1="203.5" y1="429" x2="203.5" y2="458" stroke="#b4b4b4"/>
<line x1="325.5" y1="429" x2="325.5" y2="458" stroke="#b4b4b4"/>
<line x1="447.5" y1="429" x2="447.5" y2="458" stroke="#b4b4b4"/>
<line x1="565.5" y1="429" x2="565.5" y2="458" stroke="#b4b4b4"/>
<rect x="84.9" y="429" width="44.7" height="11.3" fill="#fff" fill-opacity="0.92"/>
<text x="86.26" y="439.7" textLength="41.97" lengthAdjust="spacingAndGlyphs" font-size="10.6" font-family="DejaVu Sans Condensed" fill="#222"><tspan font-family="Liberation Sans">J</tspan>ul 2009</text>
<rect x="209.1" y="429" width="47.7" height="11.3" fill="#fff" fill-opacity="0.92"/>
<text x="210.46" y="439.7" textLength="44.97" lengthAdjust="spacingAndGlyphs" font-size="10.6" font-family="DejaVu Sans Condensed" fill="#222">Sep 2009</text>
<rect x="330.5" y="429" width="47.5" height="11.3" fill="#fff" fill-opacity="0.92"/>
<text x="331.86" y="439.7" textLength="44.77" lengthAdjust="spacingAndGlyphs" font-size="10.6" font-family="DejaVu Sans Condensed" fill="#222">Nov 2009</text>
<rect x="452" y="429" width="47.3" height="11.3" fill="#fff" fill-opacity="0.92"/>
<text x="453.36" y="439.7" textLength="44.57" lengthAdjust="spacingAndGlyphs" font-size="10.6" font-family="DejaVu Sans Condensed" fill="#222"><tspan font-family="Liberation Sans">J</tspan>an 2010</text>
<rect x="570.4" y="429" width="48.6" height="11.3" fill="#fff" fill-opacity="0.92"/>
<text x="571.76" y="439.7" textLength="45.87" lengthAdjust="spacingAndGlyphs" font-size="10.6" font-family="DejaVu Sans Condensed" fill="#222">Mar 2010</text>
<line x1="20" y1="428.5" x2="656" y2="428.5" stroke="#cccccc"/>
<polyline points="20.5,428 20.5,458.5 655.5,458.5 655.5,428" fill="none" stroke="#858585"/>
<text x="22.17" y="479" textLength="29.77" lengthAdjust="spacingAndGlyphs" font-size="8.9" font-family="DejaVu Sans" font-weight="bold" fill="#333">From:</text>
<rect x="57.5" y="467.5" width="75" height="18" fill="#fff" stroke="#7a7a7a"/>
<text x="61.56" y="480" textLength="59.08" lengthAdjust="spacingAndGlyphs" font-size="10.7" font-family="DejaVu Sans Condensed" fill="#111">2009 Jun 01</text>
<text x="137.37" y="479" textLength="15.57" lengthAdjust="spacingAndGlyphs" font-size="8.9" font-family="DejaVu Sans" font-weight="bold" fill="#333">To:</text>
<rect x="158.5" y="467.5" width="75" height="18" fill="#fff" stroke="#7a7a7a"/>
<text x="162.36" y="480" textLength="60.18" lengthAdjust="spacingAndGlyphs" font-size="10.7" font-family="DejaVu Sans Condensed" fill="#111">2010 Apr 15</text>
<text x="500.47" y="479" textLength="31.97" lengthAdjust="spacingAndGlyphs" font-size="8.9" font-family="DejaVu Sans" font-weight="bold" fill="#333">Zoom:</text>
<linearGradient id="bg1" x1="0" y1="0" x2="0" y2="1"><stop offset="0" stop-color="#f6f6f6"/><stop offset="1" stop-color="#dcdcdc"/></linearGradient>
<linearGradient id="bg2" x1="0" y1="0" x2="0" y2="1"><stop offset="0" stop-color="#5a7db6"/><stop offset="1" stop-color="#8db0e2"/></linearGradient>
<rect x="538.5" y="467.5" width="117" height="15" fill="url(#bg1)" stroke="#a8a8a8"/>
<rect x="626" y="468" width="29" height="14" fill="url(#bg2)"/>
<line x1="569.5" y1="468" x2="569.5" y2="482" stroke="#b5b5b5"/>
<line x1="625.5" y1="468" x2="625.5" y2="482" stroke="#b5b5b5"/>
<text x="543.8" y="477.5" textLength="19.41" lengthAdjust="spacingAndGlyphs" font-size="8.4" font-family="DejaVu Sans" font-weight="bold" fill="#2452a8">YTD</text>
<text x="574.7" y="477.5" textLength="44.51" lengthAdjust="spacingAndGlyphs" font-size="8.4" font-family="DejaVu Sans" font-weight="bold" fill="#2452a8">6 Months</text>
<text x="630.58" y="477.5" textLength="18.93" lengthAdjust="spacingAndGlyphs" font-size="8.6" font-family="DejaVu Sans" font-weight="bold" fill="#fff">Max</text>
<rect x="631" y="479" width="18.2" height="1.1" fill="#fff"/>
</svg>
</body></html>
